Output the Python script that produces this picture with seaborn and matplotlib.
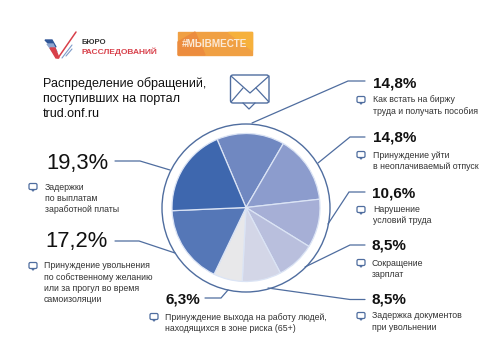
import matplotlib
matplotlib.use("Agg")
import matplotlib.pyplot as plt
from matplotlib.patches import Circle, FancyBboxPatch, Polygon, Rectangle
import seaborn as sns

# данные диаграммы
shares = [14.8, 14.8, 10.6, 8.5, 8.5, 6.3, 17.2, 19.3]
share_labels = ["14,8%", "14,8%", "10,6%", "8,5%", "8,5%", "6,3%", "17,2%", "19,3%"]
share_texts = [
    "Как встать на биржу\nтруда и получать пособия",
    "Принуждение уйти\nв неоплачиваемый отпуск",
    "Нарушение\nусловий труда",
    "Сокращение\nзарплат",
    "Задержка документов\nпри увольнении",
    "Принуждение выхода на работу людей,\nнаходящихся в зоне риска (65+)",
    "Принуждение увольнения\nпо собственному желанию\nили за прогул во время\nсамоизоляции",
    "Задержки\nпо выплатам\nзаработной платы",
]
slice_colors = ["#7088c1", "#8c9ccd", "#a6afd6", "#b9bfdd", "#d3d6e7", "#e8e8ea", "#5577b7", "#3e67ae"]
title_text = "Распределение обращений,\nпоступивших на портал\ntrud.onf.ru"

# расположение подписей в пикселях картинки
label_pos = [(373, 83), (373, 138), (372, 193), (372, 246), (372, 299), (165, 299), (45, 242), (46, 163)]
text_pos = [(373, 95.5), (373, 150.5), (373, 204.5), (372, 258.5), (372, 311.5), (165, 312.5), (44, 261.5), (45, 182.5)]
icon_pos = [(361, 100), (361, 155), (361, 210), (361, 263), (361, 316), (154, 317), (33, 266), (33, 187)]
leaders = [
    [(365, 81), (348, 81), (252, 123)],
    [(365, 137), (350, 137), (318, 163)],
    [(365, 192), (349, 192), (328, 224)],
    [(365, 245), (350, 245), (305, 267)],
    [(365, 299.5), (350, 299.5), (268, 288)],
    [(205, 298), (221, 298), (228, 290)],
    [(115, 241), (139, 241), (175, 253)],
    [(115, 161), (140, 161), (170, 170)],
]

LINE = "#4f6d9f"
H = 358


def fy(y):
    return H - y


sns.set_theme(style="white")
plt.rcParams["font.family"] = ["Liberation Sans", "DejaVu Sans"]

fig = plt.figure(figsize=(5, 3.58), dpi=100, facecolor="white")
ax = fig.add_axes([0, 0, 1, 1])

ax.pie(
    shares,
    colors=slice_colors,
    startangle=113,
    counterclock=False,
    center=(246, fy(207.5)),
    radius=74,
    wedgeprops={"edgecolor": "#dbe4f5", "linewidth": 0.9},
)
ax.add_patch(Circle((246, fy(208)), 84, fill=False, edgecolor=LINE, linewidth=1))

for pts in leaders:
    ax.plot([p[0] for p in pts], [fy(p[1]) for p in pts], color=LINE, linewidth=0.9, solid_joinstyle="miter")

for (x, y), lab in zip(label_pos, share_labels):
    big = lab in ("19,3%", "17,2%")
    ax.text(x, fy(y), lab, fontsize=15.8 if big else 11, color="#111111", va="center", ha="left",
            fontweight="normal" if big else "bold")

for (x, y), txt in zip(text_pos, share_texts):
    ax.text(x, fy(y), txt, fontsize=6.3, color="#333333", va="top", ha="left", linespacing=1.3)

# значки-сообщения
for x, y in icon_pos:
    ax.add_patch(FancyBboxPatch((x - 4, fy(y) - 2.5), 8, 6, boxstyle="round,pad=0,rounding_size=1.4",
                                fill=False, edgecolor=LINE, linewidth=0.9))
    ax.add_patch(Polygon([(x - 1.4, fy(y) - 2.5), (x, fy(y) - 4.2), (x + 1.4, fy(y) - 2.5)],
                         closed=False, fill=False, edgecolor=LINE, linewidth=0.8))

# заголовок
ax.text(43, fy(77), title_text, fontsize=9, color="#111111", va="top", ha="left", linespacing=1.32,
        fontweight="normal")

# конверт
ax.add_patch(FancyBboxPatch((230.5, fy(103)), 38.5, 28, boxstyle="round,pad=0,rounding_size=2.5",
                            fill=False, edgecolor=LINE, linewidth=1))
ax.plot([231, 250, 269], [fy(76), fy(93), fy(76)], color=LINE, linewidth=0.9)
ax.plot([231, 243], [fy(102), fy(88)], color=LINE, linewidth=0.9)
ax.plot([269, 256], [fy(102), fy(88)], color=LINE, linewidth=0.9)
ax.plot([243, 249, 255], [fy(103), fy(109), fy(103)], color=LINE, linewidth=0.9)

# логотип
ax.add_patch(Polygon([(45, fy(40)), (52, fy(40)), (56, fy(47)), (52, fy(47))], color="#2f5597"))
ax.add_patch(Polygon([(47, fy(44)), (53, fy(44)), (57, fy(52)), (53, fy(52))], color="#8fa6cf"))
ax.add_patch(Polygon([(50, fy(48)), (55, fy(48)), (59, fy(58)), (56, fy(58))], color="#d8404a"))
ax.plot([58, 76], [fy(58), fy(32)], color="#d8404a", linewidth=1.1)
ax.plot([62, 72], [fy(58), fy(45)], color="#7f9cc9", linewidth=0.8)
ax.plot([66, 72], [fy(56), fy(49)], color="#7f9cc9", linewidth=0.8)
ax.text(81, fy(43), "БЮРО", fontsize=5.6, color="#333333", va="center", ha="left", fontweight="bold")
ax.text(81, fy(52), "РАССЛЕДОВАНИЙ", fontsize=6, color="#d8404a", va="center", ha="left", fontweight="bold")

ax.add_patch(Rectangle((178, fy(55)), 74, 23, color="#f0a043"))
ax.add_patch(Polygon([(178, fy(55)), (178, fy(42)), (195, fy(32)), (205, fy(55))], color="#ec8c3e"))
ax.add_patch(Polygon([(228, fy(32)), (252, fy(32)), (252, fy(50))], color="#f6b13c"))
ax.text(215, fy(44), "#МЫВМЕСТЕ", fontsize=7.2, color="#fbe9d6", va="center", ha="center", fontweight="bold")

ax.set_xlim(0, 500)
ax.set_ylim(0, H)
ax.set_aspect("equal")
ax.axis("off")

fig.savefig("out.png", dpi=100, facecolor="white")
